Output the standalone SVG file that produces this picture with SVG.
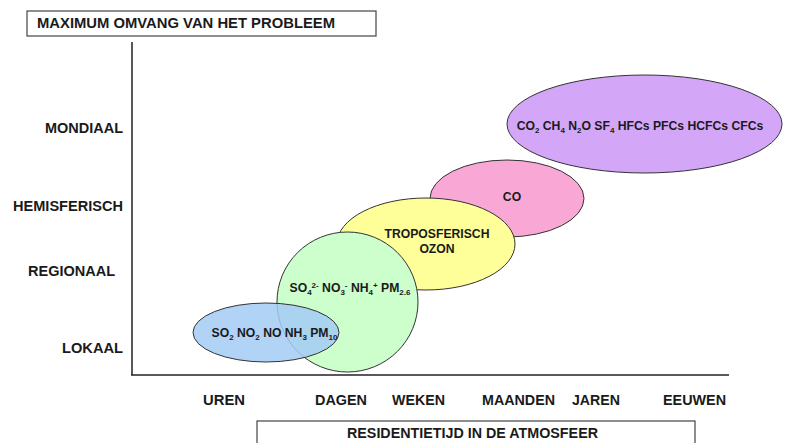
<svg xmlns="http://www.w3.org/2000/svg" width="789" height="443" viewBox="0 0 789 443">
<style>
.lbl{font-family:"Liberation Sans",Arial,sans-serif;font-weight:bold;font-size:14px;fill:#1a1a1a}
.in{font-family:"Liberation Sans",Arial,sans-serif;font-weight:bold;font-size:12.2px;fill:#1a1a1a}
.sub{font-size:8px}
.box{fill:#fff;stroke:#444;stroke-width:1.2}
.ax{stroke:#222;stroke-width:1.5;fill:none}
.ell{stroke:#333;stroke-width:1}
</style>
<rect width="789" height="443" fill="#fff"/>
<g id="title">
<rect class="box" x="27" y="11" width="349" height="25"/>
<text class="lbl" x="37" y="28" textLength="298" lengthAdjust="spacingAndGlyphs">MAXIMUM OMVANG VAN HET PROBLEEM</text>
</g>
<g id="axes">
<line class="ax" x1="132" y1="42" x2="132" y2="375"/>
<line class="ax" x1="131" y1="375" x2="729" y2="375"/>
</g>
<g id="y-labels">
<text class="lbl" x="45" y="133" textLength="78" lengthAdjust="spacingAndGlyphs">MONDIAAL</text>
<text class="lbl" x="13" y="211" textLength="110" lengthAdjust="spacingAndGlyphs">HEMISFERISCH</text>
<text class="lbl" x="28" y="276" textLength="87" lengthAdjust="spacingAndGlyphs">REGIONAAL</text>
<text class="lbl" x="62" y="353" textLength="61" lengthAdjust="spacingAndGlyphs">LOKAAL</text>
</g>
<g id="x-labels">
<text class="lbl" x="203" y="405" textLength="42" lengthAdjust="spacingAndGlyphs">UREN</text>
<text class="lbl" x="315" y="405" textLength="52" lengthAdjust="spacingAndGlyphs">DAGEN</text>
<text class="lbl" x="392" y="405" textLength="53" lengthAdjust="spacingAndGlyphs">WEKEN</text>
<text class="lbl" x="482" y="405" textLength="73" lengthAdjust="spacingAndGlyphs">MAANDEN</text>
<text class="lbl" x="572" y="405" textLength="48" lengthAdjust="spacingAndGlyphs">JAREN</text>
<text class="lbl" x="663" y="405" textLength="63" lengthAdjust="spacingAndGlyphs">EEUWEN</text>
</g>
<g id="x-title">
<rect class="box" x="257" y="421" width="438" height="30"/>
<text class="lbl" x="347" y="438" textLength="251" lengthAdjust="spacingAndGlyphs">RESIDENTIETIJD IN DE ATMOSFEER</text>
</g>
<g id="mondiaal">
<ellipse class="ell" cx="644.5" cy="124" rx="137.5" ry="49" fill="#D4A6F7"/>
<text class="in" x="640" y="130" text-anchor="middle">CO<tspan class="sub" dy="3">2</tspan><tspan dy="-3"> CH</tspan><tspan class="sub" dy="3">4</tspan><tspan dy="-3"> N</tspan><tspan class="sub" dy="3">2</tspan><tspan dy="-3">O SF</tspan><tspan class="sub" dy="3">4</tspan><tspan dy="-3"> HFCs PFCs HCFCs CFCs</tspan></text>
</g>
<g id="co">
<ellipse class="ell" cx="507" cy="198.5" rx="77" ry="38.5" fill="#F9A8D6"/>
<text class="in" x="512" y="201" text-anchor="middle">CO</text>
</g>
<g id="ozon">
<ellipse class="ell" cx="426" cy="244" rx="89" ry="46" fill="#FFFF99"/>
<text class="in" x="437" y="238" text-anchor="middle">TROPOSFERISCH</text>
<text class="in" x="437" y="253" text-anchor="middle">OZON</text>
</g>
<g id="regionaal">
<ellipse class="ell" cx="347.5" cy="302" rx="70.5" ry="70" fill="#CCFFCC"/>
<text class="in" x="350" y="292" text-anchor="middle">SO<tspan class="sub" dy="3">4</tspan><tspan class="sub" dy="-7">2-</tspan><tspan dy="4"> NO</tspan><tspan class="sub" dy="3">3</tspan><tspan class="sub" dy="-7">-</tspan><tspan dy="4">  NH</tspan><tspan class="sub" dy="3">4</tspan><tspan class="sub" dy="-7">+</tspan><tspan dy="4"> PM</tspan><tspan class="sub" dy="3">2.6</tspan></text>
</g>
<g id="lokaal">
<ellipse class="ell" cx="266" cy="332.5" rx="73" ry="29.5" fill="#A3CBF5" fill-opacity="0.85"/>
<text class="in" x="274.5" y="337" text-anchor="middle">SO<tspan class="sub" dy="3">2</tspan><tspan dy="-3"> NO</tspan><tspan class="sub" dy="3">2</tspan><tspan dy="-3"> NO NH</tspan><tspan class="sub" dy="3">3</tspan><tspan dy="-3"> PM</tspan><tspan class="sub" dy="3">10</tspan></text>
</g>
</svg>
